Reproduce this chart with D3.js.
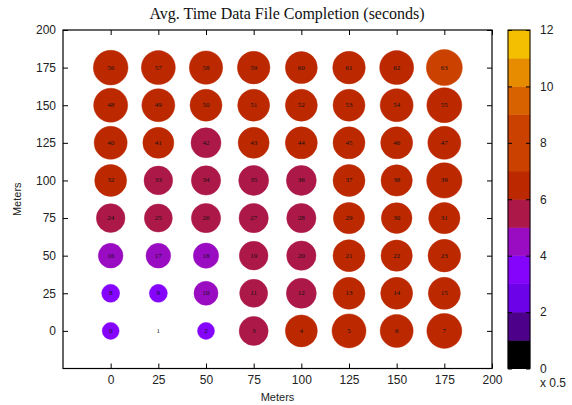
<!DOCTYPE html>
<html>
<head>
<meta charset="utf-8">
<script src="https://cdn.jsdelivr.net/npm/d3@7"></script>
<style>
  body { margin: 0; background: #fff; }
  svg { display: block; }
  .axis text { font-family: "Liberation Sans", Arial, sans-serif; font-size: 12px; fill: #222; }
  .axis path, .axis line { stroke: #000; }
</style>
</head>
<body>
<div class="chart"></div>
<script>
// grid positions (meters)
const xMeters = [0, 25, 50, 75, 100, 125, 150, 175];
const yMeters = [0, 25, 50, 75, 100, 125, 150, 175];
const axisTicks = [0, 25, 50, 75, 100, 125, 150, 175, 200];

// completion time per node (colorbar units, x 0.5 s), one array per row of y
const row0 = [3.33, 0, 3.33, 5.69, 6.27, 6.67, 6.47, 6.86];
const row25 = [3.53, 3.53, 4.71, 5.49, 5.88, 6.27, 6.27, 6.3];
const row50 = [4.84, 4.84, 4.96, 5.62, 5.75, 6.27, 6.14, 6.4];
const row75 = [5.62, 5.49, 5.75, 5.75, 5.75, 6.14, 6.02, 6.14];
const row100 = [6.27, 5.62, 5.75, 5.88, 5.88, 6.27, 6.14, 6.93];
const row125 = [6.47, 6.08, 5.88, 6.08, 6.27, 6.27, 6.27, 6.47];
const row150 = [6.67, 6.47, 6.27, 6.27, 6.27, 6.27, 6.47, 6.86];
const row175 = [6.8, 6.67, 6.54, 6.4, 6.27, 6.4, 6.67, 7.06];
const rows = [row0, row25, row50, row75, row100, row125, row150, row175];

// colorbar
const cbEdges = [1, 2, 3, 4, 5, 6, 7, 9, 10, 11];
const cbColors = ['#000000', '#4d008a', '#6c02e8', '#8505fc', '#9a0cc1', '#ac1848',
                  '#bc2900', '#cb4200', '#d96200', '#e78c00', '#f3bf00'];
const cbTicks = [0, 2, 4, 6, 8, 10, 12];

const W = 572, H = 405;
const pLeft = 63, pRight = 492, pTop = 30, pBottom = 368.5;

const svg = d3.select('.chart').append('svg')
    .attr('width', W)
    .attr('height', H);

const x = d3.scaleLinear().domain([-25, 200]).range([pLeft, pRight]);
const y = d3.scaleLinear().domain([-25, 200]).range([pBottom, pTop]);
const color = d3.scaleThreshold().domain(cbEdges).range(cbColors);
const r = d3.scaleLinear().domain([0, 12]).range([0, 30.6]);

const nodes = [];
rows.forEach((row, j) => {
    row.forEach((v, i) => {
        nodes.push({ id: j * 8 + i, x: xMeters[i], y: yMeters[j], v: v });
    });
});

// bubbles
svg.append('g')
    .selectAll('circle')
    .data(nodes.filter(d => d.v > 0))
    .enter()
    .append('circle')
    .attr('cx', d => x(d.x))
    .attr('cy', d => y(d.y))
    .attr('r', d => r(d.v))
    .attr('fill', d => color(d.v))
    .attr('stroke', d => color(d.v))
    .attr('stroke-opacity', 0.45)
    .attr('stroke-width', 1);

svg.append('g')
    .selectAll('text')
    .data(nodes)
    .enter()
    .append('text')
    .attr('x', d => x(d.x))
    .attr('y', d => y(d.y))
    .attr('text-anchor', 'middle')
    .attr('dominant-baseline', 'central')
    .style('font-family', '"Liberation Serif", "Times New Roman", serif')
    .style('font-size', '7px')
    .style('fill', '#111')
    .text(d => d.id);

// axes with inward ticks, mirrored
const tk = 5;
svg.append('g').attr('class', 'axis')
    .attr('transform', `translate(0,${pBottom})`)
    .call(d3.axisBottom(x).tickValues(axisTicks).tickSize(-tk).tickPadding(7));
svg.append('g').attr('class', 'axis')
    .attr('transform', `translate(0,${pTop})`)
    .call(d3.axisTop(x).tickValues(axisTicks).tickSize(-tk).tickFormat(''));
svg.append('g').attr('class', 'axis')
    .attr('transform', `translate(${pLeft},0)`)
    .call(d3.axisLeft(y).tickValues(axisTicks).tickSize(-tk).tickPadding(7));
svg.append('g').attr('class', 'axis')
    .attr('transform', `translate(${pRight},0)`)
    .call(d3.axisRight(y).tickValues(axisTicks).tickSize(-tk).tickFormat(''));
svg.selectAll('.axis .domain').remove();

svg.append('rect')
    .attr('x', pLeft)
    .attr('y', pTop)
    .attr('width', pRight - pLeft)
    .attr('height', pBottom - pTop)
    .attr('fill', 'none')
    .attr('stroke', '#000')
    .attr('stroke-width', 1.2);

// titles
svg.append('text')
    .attr('x', 287)
    .attr('y', 19)
    .attr('text-anchor', 'middle')
    .style('font-family', '"Liberation Serif", "Times New Roman", serif')
    .style('font-size', '16px')
    .style('fill', '#111')
    .text('Avg. Time Data File Completion (seconds)');

svg.append('text')
    .attr('x', (pLeft + pRight) / 2)
    .attr('y', 401)
    .attr('text-anchor', 'middle')
    .style('font-family', '"Liberation Sans", Arial, sans-serif')
    .style('font-size', '11px')
    .style('fill', '#222')
    .text('Meters');

svg.append('text')
    .attr('transform', `translate(21,${(pTop + pBottom) / 2}) rotate(-90)`)
    .attr('text-anchor', 'middle')
    .style('font-family', '"Liberation Sans", Arial, sans-serif')
    .style('font-size', '11px')
    .style('fill', '#222')
    .text('Meters');

// colorbar
const cbLeft = 508, cbRight = 530;
const cb = d3.scaleLinear().domain([0, 12]).range([pBottom, pTop]);
const bandLo = [0].concat(cbEdges);
const bandHi = cbEdges.concat([12]);

svg.append('g')
    .selectAll('rect')
    .data(cbColors)
    .enter()
    .append('rect')
    .attr('x', cbLeft)
    .attr('y', (d, i) => cb(bandHi[i]))
    .attr('width', cbRight - cbLeft)
    .attr('height', (d, i) => cb(bandLo[i]) - cb(bandHi[i]))
    .attr('fill', d => d)
    .attr('stroke', d => d)
    .attr('stroke-width', 0.5);

svg.append('g').attr('class', 'axis')
    .attr('transform', `translate(${cbRight},0)`)
    .call(d3.axisRight(cb).tickValues(cbTicks).tickSize(-4).tickPadding(10));
svg.append('g').attr('class', 'axis')
    .attr('transform', `translate(${cbLeft},0)`)
    .call(d3.axisLeft(cb).tickValues(cbTicks).tickSize(-4).tickFormat(''));
svg.selectAll('.axis .domain').remove();

svg.append('rect')
    .attr('x', cbLeft)
    .attr('y', pTop)
    .attr('width', cbRight - cbLeft)
    .attr('height', pBottom - pTop)
    .attr('fill', 'none')
    .attr('stroke', '#000')
    .attr('stroke-width', 1);

svg.append('text')
    .attr('x', 540)
    .attr('y', 387)
    .style('font-family', '"Liberation Sans", Arial, sans-serif')
    .style('font-size', '12px')
    .style('fill', '#222')
    .text('x 0.5');
</script>
</body>
</html>
